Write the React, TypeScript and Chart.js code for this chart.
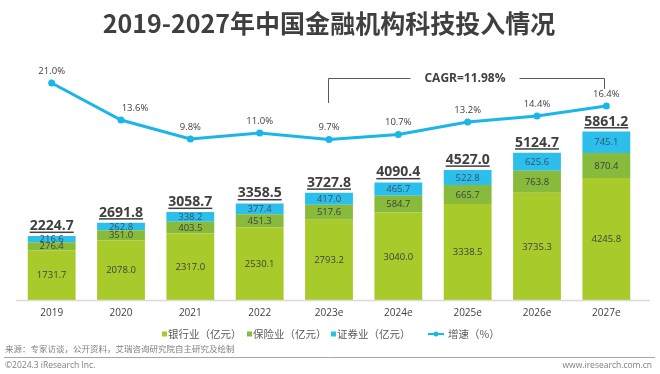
import React, { useEffect, useRef } from "react";
import { Chart, registerables } from "chart.js";

Chart.register(...registerables);

const categories = ["2019", "2020", "2021", "2022", "2023e", "2024e", "2025e", "2026e", "2027e"];
const bank = [1731.7, 2078.0, 2317.0, 2530.1, 2793.2, 3040.0, 3338.5, 3735.3, 4245.8];
const insurance = [276.4, 351.0, 403.5, 451.3, 517.6, 584.7, 665.7, 763.8, 870.4];
const securities = [216.6, 262.8, 338.2, 377.4, 417.0, 465.7, 522.8, 625.6, 745.1];
const totals = [2224.7, 2691.8, 3058.7, 3358.5, 3727.8, 4090.4, 4527.0, 5124.7, 5861.2];
const growth = [21.0, 13.6, 9.8, 11.0, 9.7, 10.7, 13.2, 14.4, 16.4];

const seriesNames = ["银行业（亿元）", "保险业（亿元）", "证券业（亿元）", "增速（%）"];
const titleText = "2019-2027年中国金融机构科技投入情况";
const cagrText = "CAGR=11.98%";
const sourceText = "来源：专家访谈，公开资料，艾瑞咨询研究院自主研究及绘制";
const copyrightText = "©2024.3 iResearch Inc.";
const siteText = "www.iresearch.com.cn";

const C_BANK = "#a8cb2b";
const C_INS = "#88ba3b";
const C_SEC = "#2cbfec";
const C_LINE = "#1cb5e8";
const TXT = "#404040";
const NUM_FONT = '"Open Sans", "Noto Sans CJK SC", sans-serif';
const CJK_FONT = '"Noto Sans CJK SC", "Open Sans", sans-serif';

const decor = {
  id: "decor",
  afterDatasetsDraw(chart: any) {
    const ctx = chart.ctx;
    const area = chart.chartArea;
    ctx.save();

    // x axis line
    ctx.strokeStyle = "#d9d9d9";
    ctx.lineWidth = 1.5;
    ctx.beginPath();
    ctx.moveTo(16, area.bottom + 0.5);
    ctx.lineTo(650, area.bottom + 0.5);
    ctx.stroke();

    // x labels
    const xs = chart.scales.x;
    ctx.fillStyle = TXT;
    ctx.font = `10px ${NUM_FONT}`;
    ctx.textAlign = "center";
    ctx.textBaseline = "middle";
    categories.forEach((c, i) => {
      ctx.fillText(c, xs.getPixelForValue(i), area.bottom + 13);
    });

    // segment labels
    ctx.font = `9.5px ${NUM_FONT}`;
    [0, 1, 2].forEach((di) => {
      const meta = chart.getDatasetMeta(di);
      const vals = chart.data.datasets[di].data as number[];
      meta.data.forEach((el: any, i: number) => {
        ctx.fillStyle = di === 2 ? "#35506a" : TXT;
        ctx.fillText(vals[i].toFixed(1), el.x, (el.y + el.base) / 2 + 0.5);
      });
    });

    // totals
    const ys = chart.scales.y;
    ctx.font = `bold 14px ${NUM_FONT}`;
    ctx.textBaseline = "alphabetic";
    totals.forEach((t, i) => {
      const x = xs.getPixelForValue(i);
      const top = ys.getPixelForValue(bank[i] + insurance[i] + securities[i]);
      const s = t.toFixed(1);
      ctx.fillStyle = TXT;
      ctx.fillText(s, x, top - 6);
      const w = ctx.measureText(s).width;
      ctx.fillRect(x - w / 2, top - 4.5, w, 1.5);
    });

    // point labels
    const lmeta = chart.getDatasetMeta(3);
    ctx.font = `9.5px ${NUM_FONT}`;
    ctx.textBaseline = "middle";
    ctx.fillStyle = TXT;
    lmeta.data.forEach((p: any, i: number) => {
      const dx = i === 1 ? 14 : 0;
      ctx.fillText(growth[i].toFixed(1) + "%", p.x + dx, p.y - 12);
    });

    // CAGR bracket
    const xl = xs.getPixelForValue(4) - 1;
    const xr = xs.getPixelForValue(8) - 2;
    const yTop = 78.5;
    ctx.strokeStyle = "#595959";
    ctx.lineWidth = 1;
    ctx.font = `bold 12px ${NUM_FONT}`;
    const cw = ctx.measureText(cagrText).width;
    const cx = 465;
    ctx.beginPath();
    ctx.moveTo(Math.round(xl) + 0.5, 103);
    ctx.lineTo(Math.round(xl) + 0.5, yTop);
    ctx.lineTo(cx - cw / 2 - 14, yTop);
    ctx.moveTo(cx + cw / 2 + 14, yTop);
    ctx.lineTo(Math.round(xr) + 0.5, yTop);
    ctx.lineTo(Math.round(xr) + 0.5, 89);
    ctx.stroke();
    ctx.fillStyle = TXT;
    ctx.textAlign = "center";
    ctx.fillText(cagrText, cx, yTop);

    // title
    ctx.font = `bold 25px ${CJK_FONT}`;
    ctx.fillStyle = "#3f3f3f";
    ctx.fillText(titleText, 329, 23);

    // legend
    const ly = 334;
    ctx.font = `10.5px ${CJK_FONT}`;
    ctx.textAlign = "left";
    ctx.fillStyle = "#595959";
    const legendColors = [C_BANK, C_INS, C_SEC];
    const sqX = [162, 247, 331];
    legendColors.forEach((c, i) => {
      ctx.fillStyle = c;
      ctx.fillRect(sqX[i], ly - 2.5, 5, 5);
      ctx.fillStyle = "#595959";
      ctx.fillText(seriesNames[i], sqX[i] + 6, ly);
    });
    ctx.strokeStyle = C_LINE;
    ctx.lineWidth = 2;
    ctx.beginPath();
    ctx.moveTo(428, ly);
    ctx.lineTo(444, ly);
    ctx.stroke();
    ctx.fillStyle = C_LINE;
    ctx.beginPath();
    ctx.arc(436, ly, 2.5, 0, Math.PI * 2);
    ctx.fill();
    ctx.fillStyle = "#595959";
    ctx.fillText(seriesNames[3], 448, ly);

    // footer
    ctx.font = `8.5px ${CJK_FONT}`;
    ctx.fillStyle = "#7f7f7f";
    ctx.fillText(sourceText, 5, 349);
    ctx.strokeStyle = "#a6a6a6";
    ctx.lineWidth = 1;
    ctx.beginPath();
    ctx.moveTo(4, 357.5);
    ctx.lineTo(655, 357.5);
    ctx.stroke();
    ctx.font = `8.5px ${NUM_FONT}`;
    ctx.fillText(copyrightText, 5, 366);
    ctx.textAlign = "right";
    ctx.fillText(siteText, 652, 366);

    ctx.restore();
  },
};

export default function App() {
  const ref = useRef<HTMLCanvasElement | null>(null);
  useEffect(() => {
    if (!ref.current) return;
    const chart = new Chart(ref.current, {
      type: "bar",
      data: {
        labels: categories,
        datasets: [
          { label: seriesNames[0], data: bank, backgroundColor: C_BANK, stack: "s", order: 2 },
          { label: seriesNames[1], data: insurance, backgroundColor: C_INS, stack: "s", order: 2 },
          { label: seriesNames[2], data: securities, backgroundColor: C_SEC, stack: "s", order: 2 },
          {
            type: "line",
            label: seriesNames[3],
            data: growth,
            yAxisID: "y1",
            borderColor: C_LINE,
            backgroundColor: C_LINE,
            borderWidth: 3,
            pointRadius: 3.5,
            pointBorderWidth: 0,
            tension: 0,
            order: 1,
          } as any,
        ],
      },
      options: {
        responsive: false,
        animation: false,
        layout: { padding: { left: 17, right: 19, top: 60, bottom: 74 } },
        datasets: { bar: { categoryPercentage: 1, barPercentage: 0.69 } },
        plugins: { legend: { display: false }, title: { display: false }, tooltip: { enabled: false } },
        scales: {
          x: { display: false, stacked: true },
          y: { display: false, stacked: true, min: 0, max: 8350 },
          y1: { display: false, min: -22.4, max: 25.6 },
        },
      },
      plugins: [decor],
    });
    return () => chart.destroy();
  }, []);
  return (
    <div style={{ position: "fixed", left: 0, top: 0, width: 660, height: 374, background: "#fff" }}>
      <canvas ref={ref} width={660} height={374} style={{ display: "block" }} />
    </div>
  );
}
